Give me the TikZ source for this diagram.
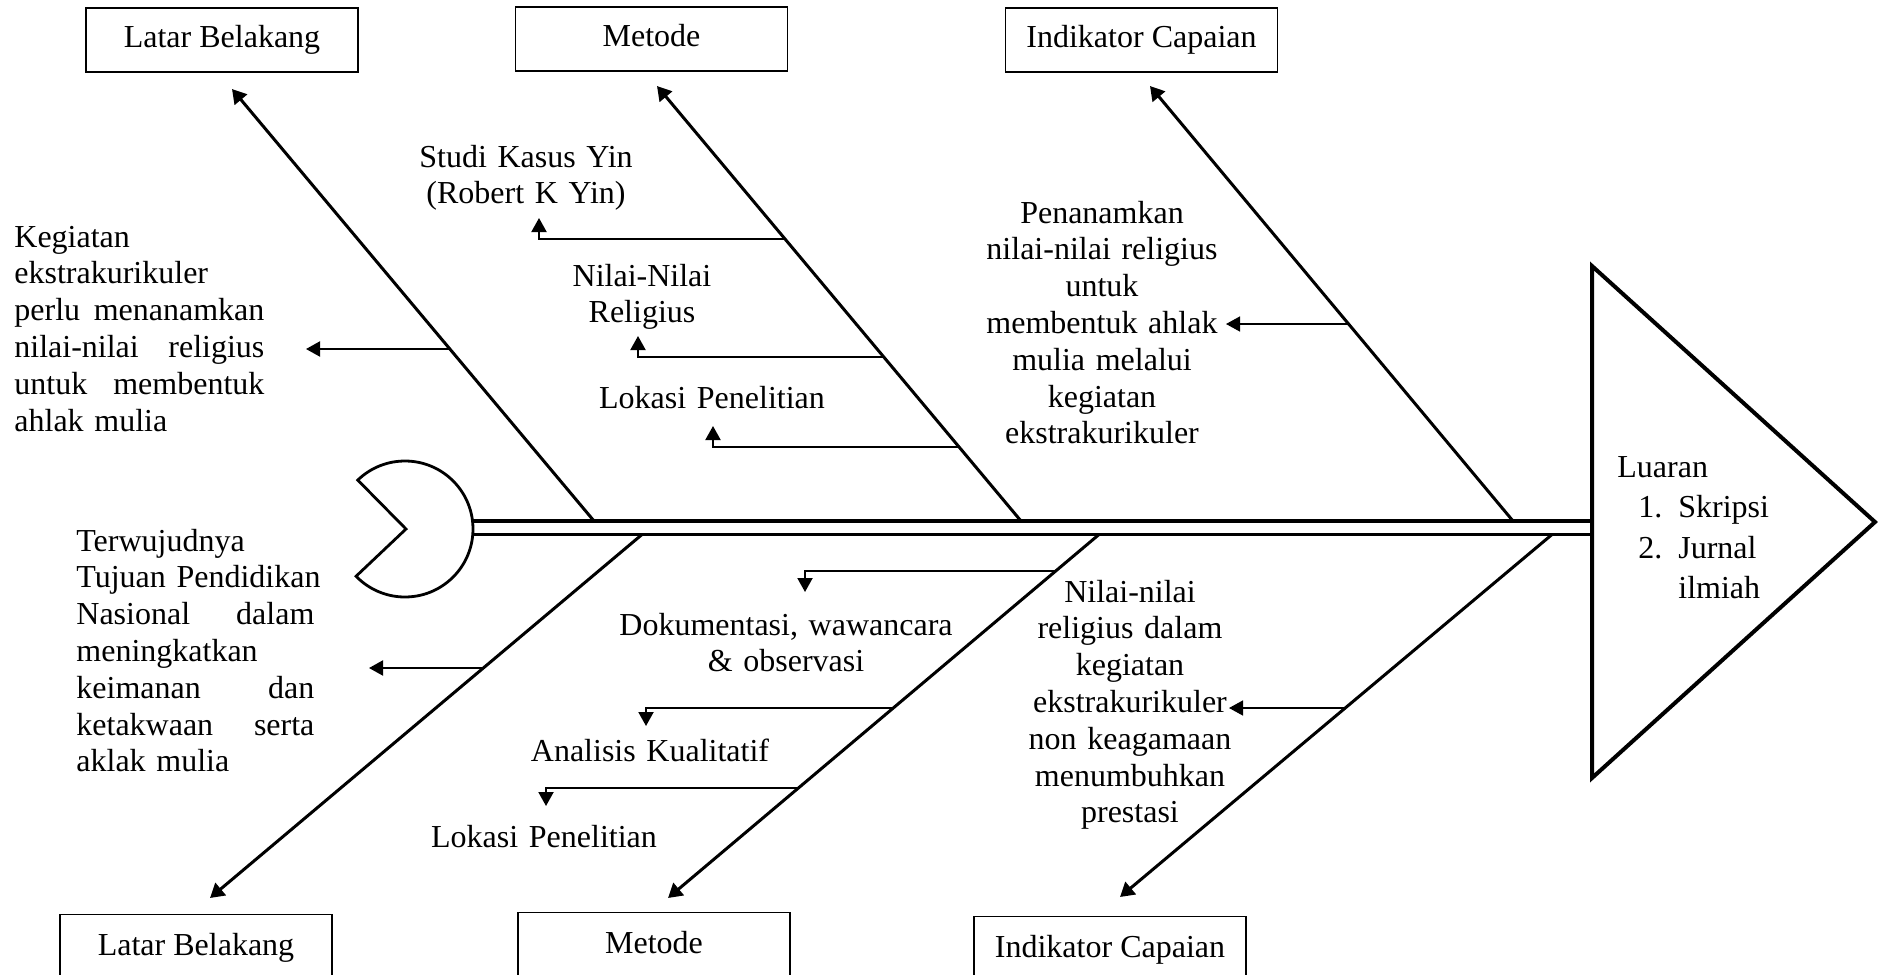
\documentclass[tikz,border=0pt]{standalone}
\usepackage{fontspec}
\setmainfont{Liberation Serif}
\usetikzlibrary{arrows.meta}
\begin{document}
\begin{tikzpicture}[x=0.5pt,y=-0.5pt,
  txt/.style={inner sep=0pt, font=\fontsize{16}{18.4}\selectfont},
  para/.style={txt, align=left, anchor=base west},
  ctr/.style={txt, align=center, anchor=base},
  box/.style={draw, line width=0.6pt, minimum width=136pt, minimum height=32pt, text height=11pt, text depth=3.5pt, inner sep=0pt, font=\fontsize{16}{18.4}\selectfont},
  bone/.style={line width=1.5pt, -{Triangle[length=7pt,width=8pt]}},
  subarr/.style={line width=1pt, -{Triangle[length=7pt,width=7.5pt]}},
  thinarr/.style={line width=0.7pt, -{Triangle[length=7pt,width=7.5pt]}},
  spine/.style={line width=1.7pt},
]
\useasboundingbox (0,0) rectangle (1881,975);
% boxes
\node[box] (tLB) at (222,40) {Latar Belakang};
\node[box] (tMet) at (651.5,39) {Metode};
\node[box] (tInd) at (1141.5,40) {Indikator Capaian};
\node[box, minimum height=33pt, anchor=north] (bLB) at (196,914) {Latar Belakang};
\node[box, minimum height=33pt, anchor=north] (bMet) at (654,912) {Metode};
\node[box, minimum height=33pt, anchor=north] (bInd) at (1110,916) {Indikator Capaian};
% head (tail fin)
\draw[line width=1.4pt, line join=miter] (405,529) ++(-134:68) arc[start angle=-134, end angle=136, radius=68] -- (406,529) -- cycle;
% spine
\coordinate (hd1) at (473,521); \coordinate (hd2) at (473,534.5);
\coordinate (tr1) at (1592,521); \coordinate (tr2) at (1592,534.5);
\draw[spine] (hd1) -- (tr1);
\draw[spine] (hd2) -- (tr2);
% head triangle
\coordinate (tA) at (1592,266); \coordinate (tB) at (1875,522); \coordinate (tC) at (1592,778);
\draw[line width=2pt, line join=miter] (tA) -- (tB) -- (tC) -- cycle;
% bones
\coordinate (u1s) at (594,521); \coordinate (u1e) at (232,89);
\coordinate (u2s) at (1021,521); \coordinate (u2e) at (657,86);
\coordinate (u3s) at (1513,521); \coordinate (u3e) at (1150,86);
\coordinate (l1s) at (642,534.5); \coordinate (l1e) at (210,898);
\coordinate (l2s) at (1099,534.5); \coordinate (l2e) at (668,898);
\coordinate (l3s) at (1552,534.5); \coordinate (l3e) at (1120,897);
\draw[bone] (u1s) -- (u1e);
\draw[bone] (u2s) -- (u2e);
\draw[bone] (u3s) -- (u3e);
\draw[bone] (l1s) -- (l1e);
\draw[bone] (l2s) -- (l2e);
\draw[bone] (l3s) -- (l3e);
% sub arrows
\coordinate (a1s) at (450,349); \coordinate (a1e) at (306,349);
\coordinate (a2s) at (785,239); \coordinate (a2e) at (539,218);
\coordinate (a3s) at (884,357); \coordinate (a3e) at (638,336);
\coordinate (a4s) at (959,447); \coordinate (a4e) at (713,426);
\coordinate (a5s) at (1348,324); \coordinate (a5e) at (1226,324);
\coordinate (b1s) at (483,668); \coordinate (b1e) at (369,668);
\coordinate (b2s) at (1056,571); \coordinate (b2e) at (805,592);
\coordinate (b3s) at (893,708); \coordinate (b3e) at (646,726);
\coordinate (b4s) at (798,788); \coordinate (b4e) at (546,806);
\coordinate (b5s) at (1346,708); \coordinate (b5e) at (1229,708);
\draw[subarr] (a1s) -- (a1e);
\draw[subarr] (a2s) -| (a2e);
\draw[subarr] (a3s) -| (a3e);
\draw[subarr] (a4s) -| (a4e);
\draw[thinarr] (a5s) -- (a5e);
\draw[subarr] (b1s) -- (b1e);
\draw[subarr] (b2s) -| (b2e);
\draw[subarr] (b3s) -| (b3e);
\draw[subarr] (b4s) -| (b4e);
\draw[thinarr] (b5s) -- (b5e);
% texts
\node[para, text width=125pt] (tlp) at (14,247) {Kegiatan\\ ekstrakurikuler\\ perlu\hfill menanamkan\\ nilai-nilai\hfill religius\\ untuk\hfill membentuk\\ ahlak mulia};
\node[ctr, text width=120pt] (studi) at (526,167) {Studi Kasus Yin\\ (Robert K Yin)};
\node[ctr, text width=100pt] (nilai) at (642,286) {Nilai-Nilai\\ Religius};
\node[ctr, text width=130pt] (lok1) at (712,408) {Lokasi Penelitian};
\node[ctr, text width=140pt] (trp) at (1102,223) {Penanamkan\\ nilai-nilai religius\\ untuk\\ membentuk ahlak\\ mulia melalui\\ kegiatan\\ ekstrakurikuler};
\node[para, text width=120pt, font=\fontsize{16}{20.3}\selectfont] (luaran) at (1617,477) {Luaran\\ \hspace*{10.5pt}\makebox[20pt][l]{1.}Skripsi\\ \hspace*{10.5pt}\makebox[20pt][l]{2.}Jurnal\\ \hspace*{30.5pt}ilmiah};
\node[para, text width=119pt] (blp) at (76,551) {Terwujudnya\\ \mbox{Tujuan Pendidikan}\\ Nasional\hfill dalam\\ meningkatkan\\ keimanan\hfill dan\\ ketakwaan\hfill serta\\ aklak mulia};
\node[ctr, text width=170pt] (dok) at (786,635) {Dokumentasi, wawancara\\ \& observasi};
\node[ctr, text width=130pt] (anl) at (650,761) {Analisis Kualitatif};
\node[ctr, text width=130pt] (lok2) at (544,847) {Lokasi Penelitian};
\node[ctr, text width=120pt] (brp) at (1130,602) {Nilai-nilai\\ religius dalam\\ kegiatan\\ ekstrakurikuler\\ non keagamaan\\ menumbuhkan\\ prestasi};
\end{tikzpicture}
\end{document}
